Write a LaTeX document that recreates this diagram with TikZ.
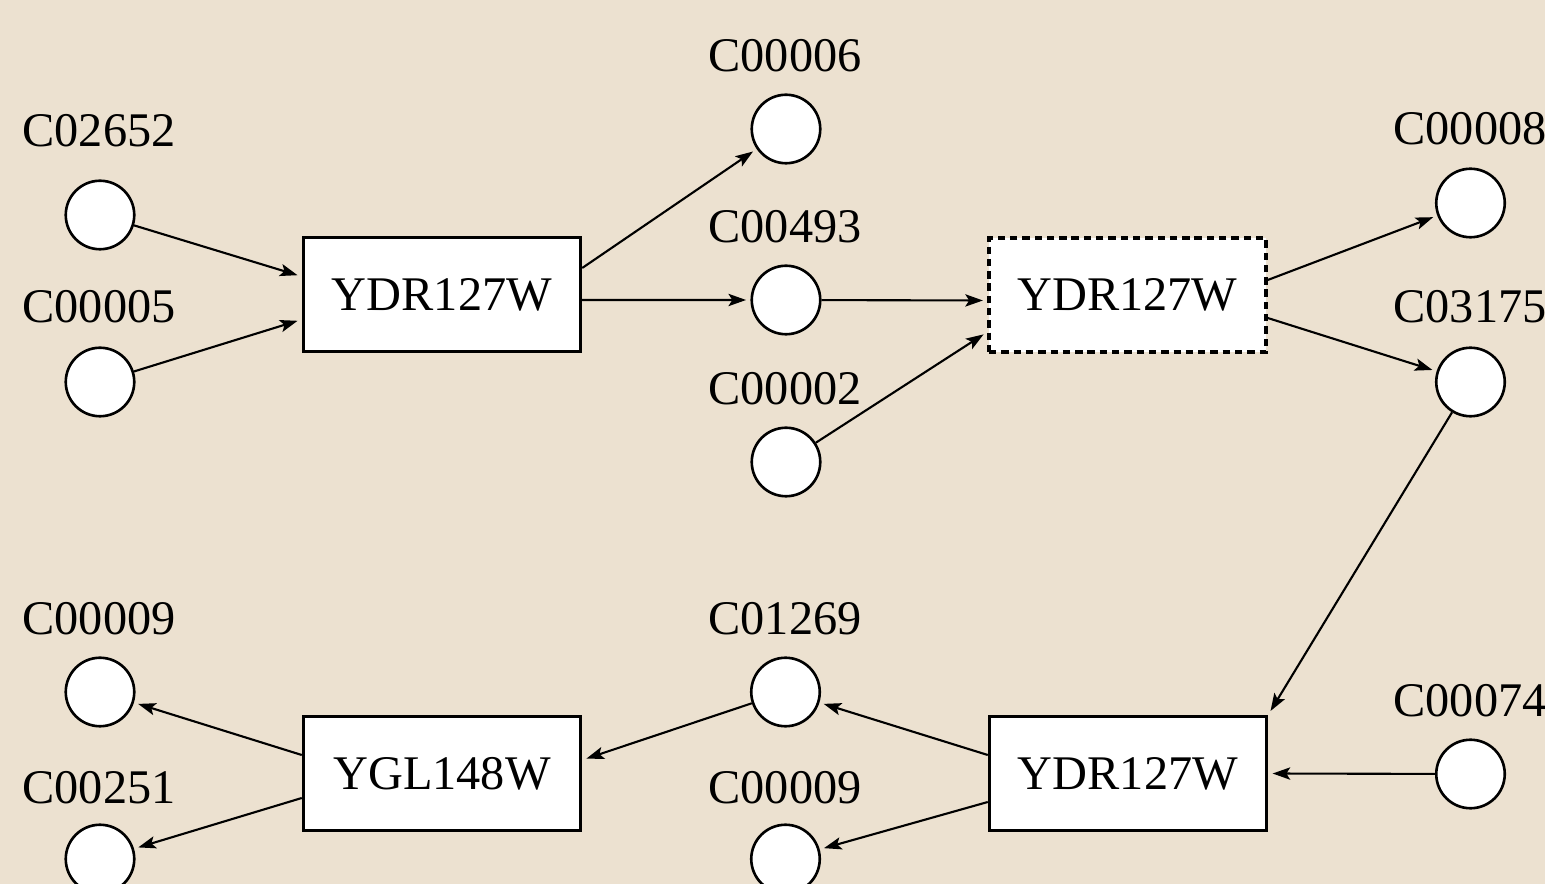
\documentclass[tikz,border=0pt]{standalone}
\usepackage{fontspec}
\setmainfont{Liberation Serif}
\usetikzlibrary{arrows.meta,calc}
\definecolor{bgc}{RGB}{236,225,208}
\begin{document}
\begin{tikzpicture}[x=0.02cm,y=0.02cm,
  every node/.style={font=\fontsize{27.5pt}{33pt}\selectfont},
  cpd/.style={circle,draw=black,fill=white,line width=1.5pt,minimum size=1.37cm,inner sep=0pt},
  rxn/.style={rectangle,draw=black,fill=white,line width=2pt,minimum width=5.54cm,minimum height=2.28cm,inner sep=0pt},
  rxnd/.style={rxn,dash pattern=on 4.2pt off 2.8pt},
  lbl/.style={anchor=base,inner sep=0pt},
  edge/.style={line width=1.2pt,-{Stealth[length=10pt,width=7pt,inset=2.2pt]},shorten >=2.5pt}
]
\fill[bgc] (0,0) rectangle (1545,-884);
\useasboundingbox (0,0) rectangle (1545,-884);

% reaction boxes
\node[rxn]  (b1) at (442,-294.5) {YDR127W};
\node[rxnd] (b2) at (1127.5,-295) {YDR127W};
\node[rxn]  (b3) at (442,-773.5) {YGL148W};
\node[rxn]  (b4) at (1128,-773.5) {YDR127W};

% compounds
\node[cpd] (c02652) at (100,-215) {};
\node[cpd] (c00005) at (100,-382) {};
\node[cpd] (c00006) at (786,-129) {};
\node[cpd] (c00493) at (786,-300) {};
\node[cpd] (c00002) at (786,-462) {};
\node[cpd] (c00008) at (1470.5,-203) {};
\node[cpd] (c03175) at (1470.5,-382) {};
\node[cpd] (c00074) at (1470.5,-774) {};
\node[cpd] (c00009a) at (100,-692) {};
\node[cpd] (c00251) at (100,-859) {};
\node[cpd] (c01269) at (785.5,-692) {};
\node[cpd] (c00009b) at (785.5,-859) {};

% labels
\node[lbl] (l02652) at (99,-147) {C02652};
\node[lbl] (l00005) at (99,-323) {C00005};
\node[lbl] (l00006) at (785,-72) {C00006};
\node[lbl] (l00493) at (785,-243) {C00493};
\node[lbl] (l00002) at (785,-405) {C00002};
\node[lbl] (l00008) at (1470,-145) {C00008};
\node[lbl] (l03175) at (1470,-323) {C03175};
\node[lbl] (l00074) at (1470,-717) {C00074};
\node[lbl] (l00009a) at (99,-635) {C00009};
\node[lbl] (l00251) at (99,-803) {C00251};
\node[lbl] (l01269) at (785,-635) {C01269};
\node[lbl] (l00009b) at (785,-803) {C00009};

% connectors
\draw[edge] (c02652) -- ($(b1.west)+(0,18)$);
\draw[edge] (c00005) -- ($(b1.west)+(0,-25)$);
\draw[edge] ($(b1.east)+(0,26.5)$) -- (c00006);
\draw[edge] ($(b1.east)+(0,-5.5)$) -- (c00493);
\draw[edge] (c00493) -- ($(b2.west)+(0,-5.5)$);
\draw[edge] (c00002) -- ($(b2.west)+(0,-37)$);
\draw[edge] ($(b2.east)+(0,15)$) -- (c00008);
\draw[edge] ($(b2.east)+(0,-23)$) -- (c03175);
\draw[edge] (c03175) -- (b4.north east);
\draw[edge] (c00074) -- (b4.east);
\draw[edge] ($(b4.west)+(0,18.5)$) -- (c01269);
\draw[edge] ($(b4.west)+(0,-28.5)$) -- (c00009b);
\draw[edge] (c01269) -- ($(b3.east)+(0,13.5)$);
\draw[edge] ($(b3.west)+(0,18.5)$) -- (c00009a);
\draw[edge] ($(b3.west)+(0,-24.5)$) -- (c00251);
\end{tikzpicture}
\end{document}
